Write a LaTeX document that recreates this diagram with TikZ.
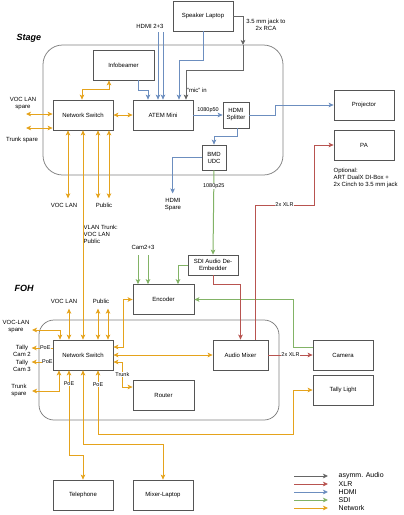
\documentclass[tikz,border=0pt]{standalone}
\usepackage{fontspec}
\setmainfont{Liberation Sans}
\usetikzlibrary{arrows.meta}
\definecolor{lineaudio}{HTML}{666666}
\definecolor{linexlr}{HTML}{B85450}
\definecolor{linehdmi}{HTML}{6C8EBF}
\definecolor{linesdi}{HTML}{82B366}
\definecolor{linenet}{HTML}{E5A31C}
\definecolor{boxline}{HTML}{555555}
\begin{document}
\begin{tikzpicture}[x=1pt, y=-1pt,
	>={Stealth[length=5pt, width=4.6pt, inset=1.2pt]},
	box/.style={shape=rectangle, draw=boxline, line width=0.75pt, minimum width=60pt, minimum height=30pt, inner sep=1pt, align=center, font=\fontsize{6}{7}\selectfont},
	region/.style={shape=rectangle, draw=gray, line width=0.75pt, inner sep=0pt},
	lbl/.style={inner sep=0.5pt, align=center, font=\fontsize{6}{7}\selectfont},
	elbl/.style={inner sep=0.5pt, fill=white, font=\fontsize{5.5}{6.5}\selectfont},
	area/.style={inner sep=0pt, font=\fontsize{9}{10}\selectfont\bfseries\itshape},
	wire/.style={line width=1pt, ->},
	audio/.style={wire, draw=lineaudio},
	xlr/.style={wire, draw=linexlr},
	hdmi/.style={wire, draw=linehdmi},
	sdi/.style={wire, draw=linesdi},
	net/.style={wire, draw=linenet},
	netbi/.style={net, <->}]
	\useasboundingbox (0,0) rectangle (404,515);
	% Areas:
	\node[region, rounded corners=19.5pt, minimum width=240pt, minimum height=130pt] (stage) at (163,110){};
	\node[region, rounded corners=15pt, minimum width=240pt, minimum height=100pt] (foh) at (159,370){};
	\node[area] (stagelbl) at (29,38){Stage};
	\node[area] (fohlbl) at (24,288){FOH};
	% Devices:
	\node[box] (spk) at (203,16){Speaker Laptop};
	\node[box, minimum width=61pt] (info) at (123.5,65){Infobeamer};
	\node[box] (atem) at (163,115){ATEM Mini};
	\node[box] (nss) at (83,115){Network Switch};
	\node[box, minimum width=26pt, minimum height=26pt] (split) at (236,115){HDMI\\Splitter};
	\node[box] (proj) at (364,105){Projector};
	\node[box] (pa) at (364,145){PA};
	\node[box, minimum width=24pt, minimum height=25pt] (bmd) at (214,157.5){BMD\\UDC};
	\node[box, minimum width=50pt, minimum height=20pt] (sdi) at (213,265){SDI Audio De-\\Embedder};
	\node[box, minimum width=61pt] (enc) at (163.5,299.5){Encoder};
	\node[box] (nsf) at (83,355){Network Switch};
	\node[box, minimum width=55pt] (mix) at (240.5,355){Audio Mixer};
	\node[box] (cam) at (343,355){Camera};
	\node[box] (tally) at (343,390){Tally Light};
	\node[box, minimum width=61pt] (router) at (163.5,395){Router};
	\node[box] (tel) at (83,495){Telephone};
	\node[box] (mlap) at (163,495){Mixer-Laptop};
	% Texts:
	\node[lbl] (hdmiin) at (150,26){HDMI 2+3};
	\node[lbl] (jacklbl) at (266,25){3.5 mm jack to\\2x RCA};
	\node[lbl] (miclbl) at (197,90){"mic" in};
	\node[lbl] (vocsptxt) at (23,104){VOC LAN\\spare};
	\node[lbl] (trsptxt) at (22,140){Trunk spare};
	\node[lbl] (voctxt) at (64,205){VOC LAN};
	\node[lbl] (pubtxt) at (104,205){Public};
	\node[lbl] (hspare) at (173,205){HDMI\\Spare};
	\node[lbl, align=left, anchor=west] (trunktxt) at (83,234){VLAN Trunk:\\VOC LAN\\Public};
	\node[lbl, align=left, anchor=north west] (opttxt) at (333,167){Optional:\\ART DualX DI-Box +\\2x Cinch to 3.5 mm jack};
	\node[lbl] (cam23) at (143,247){Cam2+3};
	\node[lbl] (voctxt2) at (64,301){VOC LAN};
	\node[lbl] (pubtxt2) at (101,301){Public};
	\node[lbl] (vocsptxt2) at (16,327){VOC-LAN\\spare};
	\node[lbl] (tc2) at (22,350.5){Tally\\Cam 2};
	\node[lbl] (tc3) at (22,365.5){Tally\\Cam 3};
	\node[lbl] (trsptxt2) at (19,390.5){Trunk\\spare};
	% Stage wires:
	\coordinate (hin2) at (158,32);
	\coordinate (hin3) at (163,32);
	\coordinate (jack) at (243,45);
	\coordinate (vocsp) at (26,114);
	\coordinate (trsp) at (26,128);
	\draw[hdmi] (hin2) -- (hin2 |- atem.north);
	\draw[hdmi] (hin3) -- (hin3 |- atem.north);
	\draw[hdmi] ([xshift=14.5pt]info.south) -- ++(0,10) -| ([xshift=-15pt]atem.north);
	\draw[hdmi] (spk.south) -- ++(0,29) -| ([xshift=16pt]atem.north);
	\draw[audio] (spk.east) -| (jack);
	\draw[audio] (jack) -- ++(0,25) -| ([xshift=23pt]atem.north);
	\draw[netbi] (nss.east) -- (atem.west);
	\draw[netbi] ([xshift=-1pt]nss.north) -- ++(0,-10) -| ([xshift=-14.5pt]info.south);
	\draw[netbi] (vocsp) -- (vocsp -| nss.west);
	\draw[netbi] (trsp) -- (trsp -| nss.west);
	\draw[netbi] ([xshift=-15pt]nss.south) -- ++(0,68);
	\draw[netbi] ([xshift=15pt]nss.south) -- ++(0,68);
	\draw[netbi] ([xshift=26pt]nss.south) -- ++(0,68);
	\draw[netbi] (nss.south) -- (nsf.north);
	\draw[hdmi] (atem.east) -- node[elbl, fill=none, above=1pt]{1080p50} (split.west);
	\draw[hdmi] (split.east) -- ++(26,0) |- (proj.west);
	\draw[hdmi] ([xshift=1pt]split.south) -- ++(0,8) -| (bmd.north);
	\draw[hdmi] (bmd.west) -| ++(-29,36);
	\draw[sdi] (bmd.south) -- node[elbl, pos=0.19]{1080p25} (sdi.north);
	% FOH wires:
	\coordinate (c2) at (138,255);
	\coordinate (c3) at (148,255);
	\coordinate (xlrbend) at (314,205);
	\coordinate (vocsp2) at (32,330);
	\coordinate (trsp2) at (32,391);
	\coordinate (poebend) at (293,434);
	\draw[sdi] (c2) -- (c2 |- enc.north);
	\draw[sdi] (c3) -- (c3 |- enc.north);
	\draw[sdi] (sdi.west) -| ([xshift=14.5pt]enc.north);
	\draw[sdi] ([yshift=8pt]cam.west) -- ++(-19,0) |- (enc.east);
	\draw[xlr] (sdi.south) -- ++(0,9) -| (mix.north);
	\draw[xlr] ([xshift=14.5pt]mix.north) |- node[elbl, pos=0.75]{2x XLR} (xlrbend) |- (pa.west);
	\draw[xlr] (mix.east) -- node[elbl]{2x XLR} (cam.west);
	\draw[netbi] (nsf.east) -- (mix.west);
	\draw[netbi] ([yshift=8pt]nsf.east) -- ++(10,0) |- (enc.west);
	\draw[netbi] ([yshift=-7pt]nsf.east) -- ++(9,0) |- node[elbl, pos=0.25]{Trunk} ([yshift=8pt]router.west);
	\draw[netbi] ([xshift=-14pt]nsf.north) -- ++(0,-31);
	\draw[netbi] ([xshift=15pt]nsf.north) -- ++(0,-31);
	\draw[netbi] ([xshift=25pt]nsf.north) -- ++(0,-31);
	\draw[netbi] (vocsp2) -| ([xshift=-23pt]nsf.north);
	\draw[net] ([yshift=7pt]nsf.west) -- node[elbl, pos=0.35]{PoE} ++(-21,0);
	\draw[net] ([yshift=-7pt]nsf.west) -- node[elbl, pos=0.25]{PoE} ++(-21,0);
	\draw[netbi] (trsp2) -| ([xshift=-24pt]nsf.south);
	\draw[netbi] ([xshift=-14pt]nsf.south) -- node[elbl, pos=0.16]{PoE} ++(0,85) -| (tel.north);
	\draw[netbi] (nsf.south) -- ++(0,74) -| (mlap.north);
	\draw[netbi] ([xshift=15pt]nsf.south) |- node[elbl, pos=0.11]{PoE} (poebend) |- (tally.west);
	% Legend:
	\foreach \st/\txt [count=\i] in {audio/asymm. Audio, xlr/XLR, hdmi/HDMI, sdi/SDI, net/Network}{
		\coordinate (lg\i) at (294,468+8*\i);
		\draw[\st] (lg\i) -- ++(34,0);
		\node[lbl, anchor=west, font=\fontsize{7}{8}\selectfont] (lgt\i) at (338,468+8*\i){\txt};
	}
\end{tikzpicture}
\end{document}
